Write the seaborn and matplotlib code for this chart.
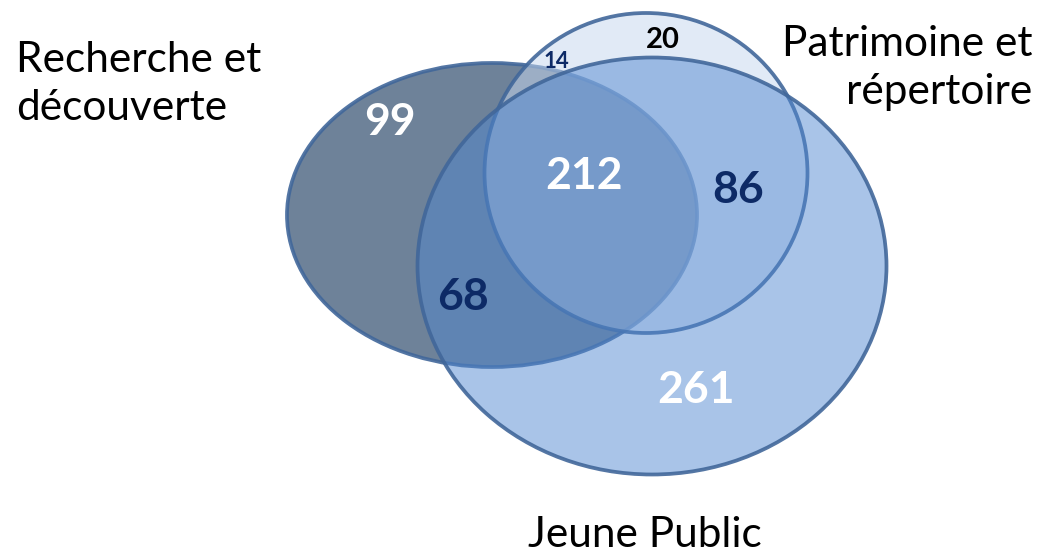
import seaborn as sns
import matplotlib.pyplot as plt
from matplotlib.patches import Ellipse

# sets and region counts
set_names = ['Recherche et\ndécouverte', 'Patrimoine et\nrépertoire', 'Jeune Public']
regions = ['R', 'RP', 'P', 'RPJ', 'PJ', 'RJ', 'J']
counts = [99, 14, 20, 212, 86, 68, 261]

# layout (figure is laid out in pixel units, y pointing down)
ellipses = {
    'R': dict(xy=(492, 215), w=410, h=304, color='#6e8299', alpha=1.0),
    'P': dict(xy=(646, 173), w=323, h=320, color='#c7d8ef', alpha=0.52),
    'J': dict(xy=(652, 266), w=469, h=417, color='#5087d0', alpha=0.49),
}
edge = '#41679a'

label_pos = {
    'R': (390, 122, 'white', 32), 'RP': (556, 62, '#0d2a66', 16),
    'P': (663, 40, 'black', 21), 'RPJ': (584, 176, 'white', 32),
    'PJ': (738, 190, '#0d2a66', 32), 'RJ': (463, 297, '#0d2a66', 32),
    'J': (696, 390, 'white', 32),
}

sns.set_theme(style='white')
plt.rcParams['font.family'] = ['Lato', 'DejaVu Sans']

fig = plt.figure(figsize=(10.4, 5.59), dpi=100)
ax = fig.add_axes([0, 0, 1, 1])
ax.set_xlim(0, 1040)
ax.set_ylim(559, 0)
ax.axis('off')

for key, e in ellipses.items():
    ax.add_patch(Ellipse(e['xy'], e['w'], e['h'], facecolor=e['color'],
                         alpha=e['alpha'], edgecolor='none'))
    ax.add_patch(Ellipse(e['xy'], e['w'], e['h'], facecolor='none',
                         edgecolor=edge, lw=2.7, alpha=0.9))

for reg, n in zip(regions, counts):
    x, y, c, fs = label_pos[reg]
    ax.text(x, y, str(n), color=c, fontsize=fs, fontweight='bold',
            ha='center', va='center')

ax.text(16, 84, set_names[0], fontsize=30.5, ha='left', va='center',
        color='black', linespacing=1.3)
ax.text(1032, 68, set_names[1], fontsize=30.5, ha='right', va='center',
        color='black', linespacing=1.3)
ax.text(645, 554, set_names[2], fontsize=30.5, ha='center', va='bottom',
        color='black')

plt.savefig('out.png', dpi=100)
